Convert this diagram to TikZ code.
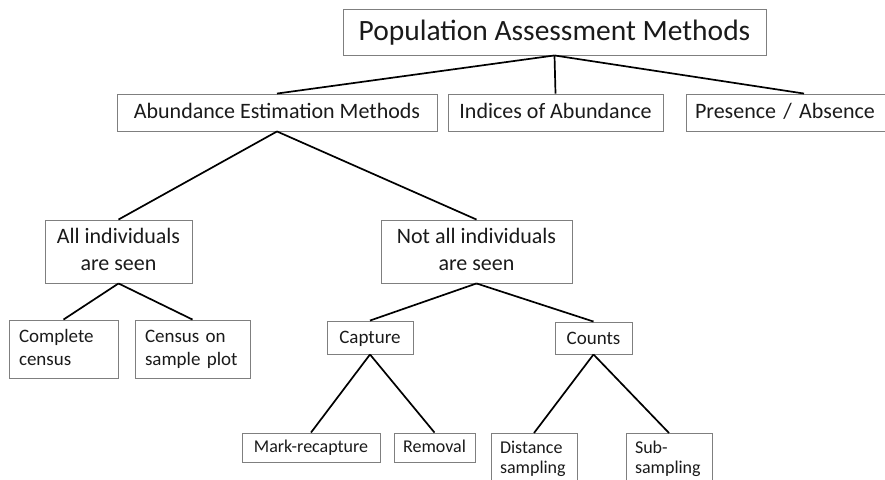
\documentclass[tikz,border=0pt]{standalone}
\usepackage{fontspec}
\setmainfont{Carlito}
\definecolor{boxgray}{HTML}{7F7F7F}
\definecolor{txt}{HTML}{1A1A1A}
\begin{document}
\begin{tikzpicture}[x=1pt,y=-1pt,
  box/.style={draw=boxgray, line width=0.9pt, inner sep=0pt, text=txt, align=center},
  lbox/.style={box, align=left},
  fbig/.style={font=\fontsize{29.5}{34}\selectfont, text height=21pt, text depth=5pt},
  fmid/.style={font=\fontsize{22}{27}\selectfont},
  one/.style={text height=15pt, text depth=4pt},
  fsmall/.style={font=\fontsize{19}{23}\selectfont},
  onesmall/.style={text height=15pt, text depth=3pt},
  ftiny/.style={font=\fontsize{18}{20}\selectfont},
  onetiny/.style={text height=13pt, text depth=4pt},
  conn/.style={line width=1.7pt, black}]
\useasboundingbox (0,0) rectangle (885,479);
\clip (0,0) rectangle (885,479);

\node[box, fbig, minimum width=423pt, minimum height=46pt] (top) at (554.5,32) {Population Assessment Methods};

\node[box, fmid, one, minimum width=320pt, minimum height=37pt] (aem) at (277,112.5) {Abundance Estimation Methods};
\node[box, fmid, one, minimum width=215pt, minimum height=37pt] (ioa) at (555.5,112.5) {Indices of Abundance};
\node[lbox, fmid, one, inner xsep=9pt, text width=218pt, minimum height=37pt] (pa) at (804,112.5) {Presence / Absence};

\node[box, fmid, minimum width=147pt, minimum height=63pt] (all) at (118.5,251.5) {All individuals\strut\\are seen\strut};
\node[box, fmid, minimum width=191pt, minimum height=63pt] (notall) at (476.5,251.5) {Not all individuals\strut\\are seen\strut};

\node[lbox, fsmall, inner xsep=10pt, text width=89pt, minimum height=58pt] (complete) at (63.5,349) {Complete\strut\\census\strut};
\node[lbox, fsmall, inner xsep=10pt, text width=95pt, minimum height=58pt] (cosp) at (192.5,349) {Census on\strut\\sample plot\strut};

\node[box, fsmall, onesmall, minimum width=86pt, minimum height=33pt] (capture) at (370,337.5) {Capture};
\node[box, fsmall, onesmall, minimum width=77pt, minimum height=32pt] (counts) at (593.5,338) {Counts};

\node[box, ftiny, onetiny, minimum width=138pt, minimum height=29pt] (mark) at (311,447.5) {Mark-recapture};
\node[box, ftiny, onetiny, minimum width=81pt, minimum height=29pt] (removal) at (434.5,447.5) {Removal};
\node[lbox, ftiny, anchor=north, inner xsep=9pt, text width=68pt, minimum height=52pt] (distance) at (534,433) {Distance\strut\\sampling\strut};
\node[lbox, ftiny, anchor=north, inner xsep=9pt, text width=68pt, minimum height=52pt] (sub) at (669,433) {Sub-\strut\\sampling\strut};

\draw[conn] (top.south) -- (aem.north);
\draw[conn] (top.south) -- (ioa.north);
\draw[conn] (top.south) -- (pa.north);
\draw[conn] (aem.south) -- (all.north);
\draw[conn] (aem.south) -- (notall.north);
\draw[conn] (all.south) -- (complete.north);
\draw[conn] (all.south) -- (cosp.north);
\draw[conn] (notall.south) -- (capture.north);
\draw[conn] (notall.south) -- (counts.north);
\draw[conn] (capture.south) -- (mark.north);
\draw[conn] (capture.south) -- (removal.north);
\draw[conn] (counts.south) -- (distance.north);
\draw[conn] (counts.south) -- (sub.north);
\end{tikzpicture}
\end{document}
